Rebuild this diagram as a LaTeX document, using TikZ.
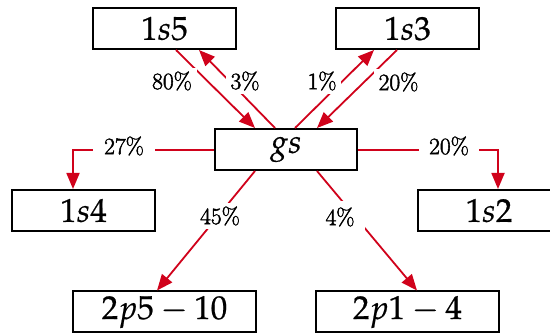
\documentclass[tikz,border=0pt]{standalone}
\usepackage{mathpazo}
\usetikzlibrary{arrows.meta,calc}
\definecolor{arrred}{RGB}{208,2,27}
\newcommand\heavytext[2]{\special{pdf:literal direct 2 Tr #1 w}#2\special{pdf:literal direct 0 Tr}}
\tikzset{
  statebox/.style={draw=black, line width=2pt, fill=white, minimum height=41pt, inner sep=0pt,
    font=\fontsize{33}{36}\selectfont},
  flow/.style={draw=arrred, line width=1.8pt, -{Triangle[length=16pt,width=13pt]}},
  pct/.style={fill=white, inner xsep=5pt, inner ysep=4pt, font=\fontsize{23.5}{26}\selectfont}
}
\begin{document}
\begin{tikzpicture}[x=1pt,y=-1pt]
\useasboundingbox (0,0) rectangle (550,334);
\clip (0,0) rectangle (550,334);
% boxes
\node[statebox, minimum width=143pt] (s5) at (164.5,28.5) {\heavytext{0.2}{$1s5$}};
\node[statebox, minimum width=143pt] (s3) at (407.5,28.5) {\heavytext{0.2}{$1s3$}};
\node[statebox, minimum width=142pt] (gs) at (286,149.5) {\heavytext{0.2}{$gs$}};
\node[statebox, minimum width=143pt] (s4) at (83.5,210.5) {\heavytext{0.2}{$1s4$}};
\node[statebox, minimum width=143pt] (s2) at (489,210.5) {\heavytext{0.2}{$1s2$}};
\node[statebox, minimum width=183pt] (p5) at (164.5,312) {\heavytext{0.2}{$2p5-10$}};
\node[statebox, minimum width=183pt] (p1) at (407.5,312) {\heavytext{0.2}{$2p1-4$}};
% connectors
\draw[flow] ([xshift=11.5pt]s5.south) -- ([xshift=-31pt]gs.north);
\draw[flow] ([xshift=-11pt]gs.north) -- ([xshift=34.5pt]s5.south);
\draw[flow] ([xshift=9pt]gs.north) -- ([xshift=-33.5pt]s3.south);
\draw[flow] ([xshift=-10.5pt]s3.south) -- ([xshift=31pt]gs.north);
\draw[flow] ([yshift=-0.5pt]gs.west) -| ([xshift=-10.5pt]s4.north);
\draw[flow] ([yshift=-0.5pt]gs.east) -| ([xshift=9pt]s2.north);
\draw[flow] ([xshift=-31pt]gs.south) -- ([xshift=-7.5pt]p5.north);
\draw[flow] ([xshift=31pt]gs.south) -- ([xshift=9.5pt]p1.north);
% labels
\node[pct] (l80) at (172,81) {\heavytext{0.45}{80\%}};
\node[pct] (l3) at (245,81) {\heavytext{0.45}{3\%}};
\node[pct] (l1) at (322,81) {\heavytext{0.45}{1\%}};
\node[pct] (l20a) at (398.5,82) {\heavytext{0.45}{20\%}};
\node[pct, minimum width=62pt] (l27) at (124,146) {\heavytext{0.45}{27\%}};
\node[pct, minimum width=60pt] (l20b) at (449,146) {\heavytext{0.45}{20\%}};
\node[pct] (l45) at (220,216) {\heavytext{0.45}{45\%}};
\node[pct, minimum width=50pt, minimum height=32pt] (l4) at (340,217) {\heavytext{0.45}{4\%}};
\end{tikzpicture}
\end{document}
